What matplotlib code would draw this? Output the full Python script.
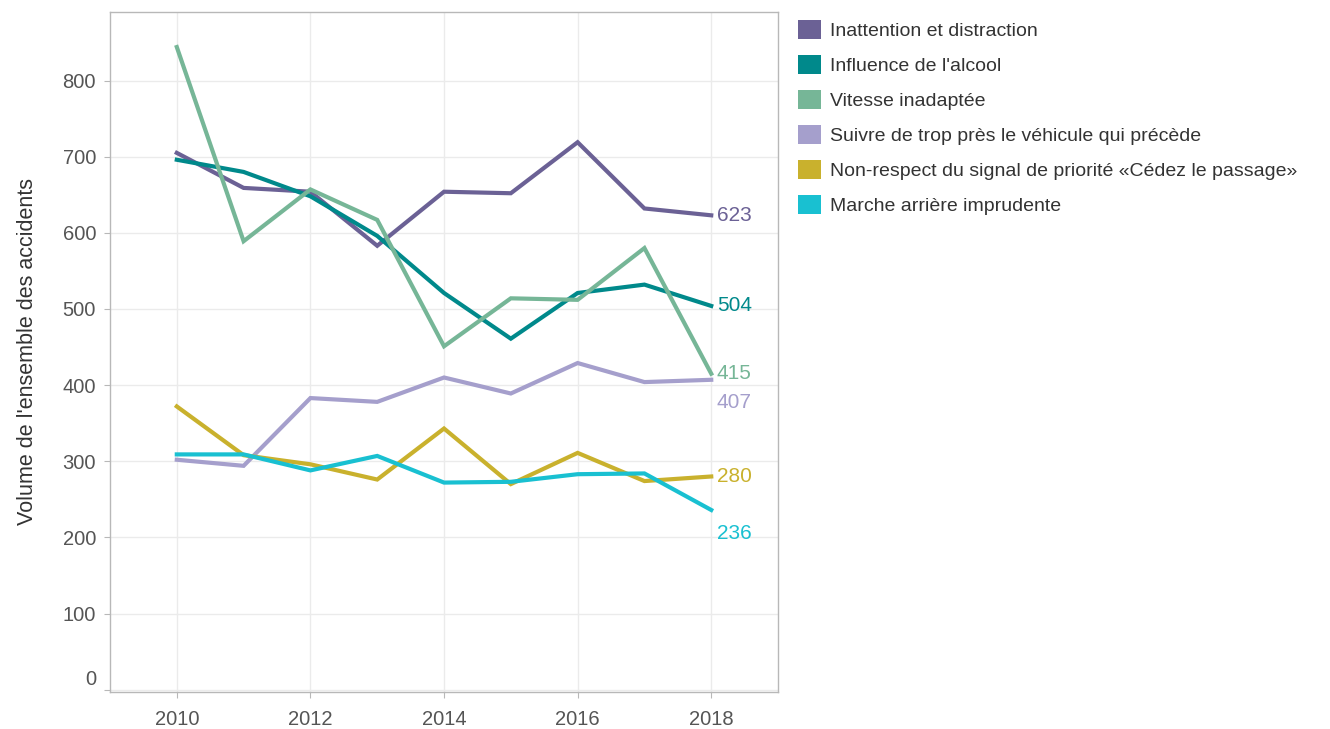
import matplotlib.pyplot as plt
import matplotlib.transforms as mtransforms
from matplotlib.patches import Patch

plt.rcParams['font.family'] = ['Liberation Sans', 'DejaVu Sans']

years = [2010, 2011, 2012, 2013, 2014, 2015, 2016, 2017, 2018]

names = [
    "Inattention et distraction",
    "Influence de l'alcool",
    "Vitesse inadaptée",
    "Suivre de trop près le véhicule qui précède",
    "Non-respect du signal de priorité «Cédez le passage»",
    "Marche arrière imprudente",
]

inattention = [705, 659, 654, 583, 654, 652, 719, 632, 623]
alcool = [696, 680, 648, 596, 521, 461, 521, 532, 504]
vitesse = [844, 589, 657, 617, 451, 514, 512, 580, 415]
suivre = [302, 294, 383, 378, 410, 389, 429, 404, 407]
priorite = [372, 308, 296, 276, 343, 270, 311, 274, 280]
marche = [309, 309, 288, 307, 272, 273, 283, 284, 236]

series = [inattention, alcool, vitesse, suivre, priorite, marche]
colors = ["#6b6195", "#00898b", "#76b697", "#a59fcc", "#c9b12d", "#19c0d1"]
# vertical nudge (points) of end labels to avoid overlaps
label_dy = [0, 0, 0, -16, 0, -17]

fig = plt.figure(figsize=(13.3, 7.29), dpi=100)
ax = fig.add_axes([0.0827, 0.0508, 0.5023, 0.9327])

for vals, col, dy in zip(series, colors, label_dy):
    ax.plot(years, vals, color=col, lw=3, solid_joinstyle='miter')
    ax.annotate(str(vals[-1]), (years[-1], vals[-1]), xytext=(4, dy),
                textcoords='offset points', color=col, fontsize=15,
                va='center', ha='left')

ax.set_xlim(2009, 2019)
ax.set_ylim(-3, 890)
ax.set_xticks([2010, 2012, 2014, 2016, 2018])
ax.set_yticks(range(0, 900, 100))
ax.grid(True, color='#ebebeb', lw=1)
ax.set_axisbelow(True)
for s in ax.spines.values():
    s.set_color('#b8b8b8')
    s.set_linewidth(1)
ax.tick_params(colors='#b8b8b8', labelcolor='#555555', labelsize=14.5, length=4)
ax.tick_params(axis='x', pad=9)
ax.tick_params(axis='y', pad=6)
ax.set_ylabel("Volume de l'ensemble des accidents", fontsize=15.5, color='#333333', labelpad=18)

# lift the "0" label a little, as in the original
zero_lbl = ax.get_yticklabels()[0]
zero_lbl.set_transform(zero_lbl.get_transform() +
                       mtransforms.ScaledTranslation(0, 9 / 72, fig.dpi_scale_trans))

handles = [Patch(facecolor=c, edgecolor='none') for c in colors]
fig.legend(handles, names, loc='upper left', bbox_to_anchor=(0.5872, 0.997),
           frameon=False, fontsize=14, handlelength=1.15, handleheight=1.15,
           handletextpad=0.45, labelspacing=0.76, labelcolor='#333333')

fig.savefig("out.png", dpi=100)
